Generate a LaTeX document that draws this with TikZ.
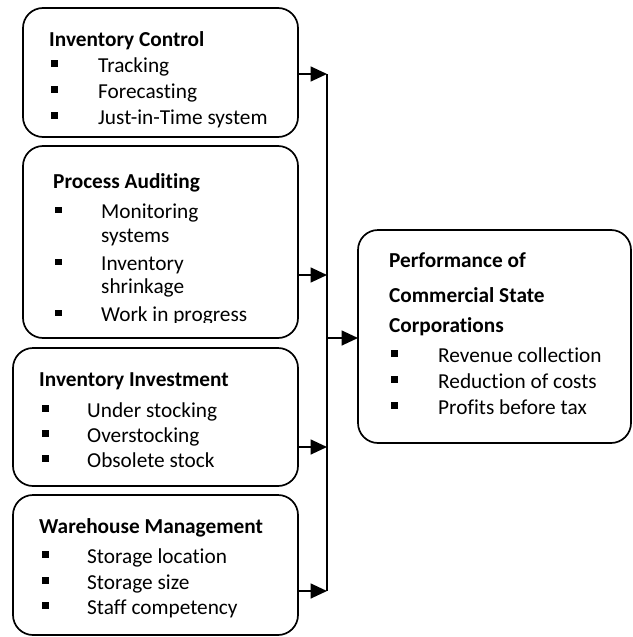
\documentclass[tikz,border=0pt]{standalone}
\usepackage{fontspec}
\setmainfont[Ligatures=NoCommon]{Carlito}
\usetikzlibrary{arrows.meta}
\begin{document}
\begin{tikzpicture}[x=1pt,y=-1pt,
  box/.style={draw,line width=1.7pt,rounded corners=20pt,anchor=north west,inner sep=0pt,outer sep=0pt},
  txt/.style={anchor=base west,inner sep=0pt,font=\fontsize{21.3pt}{25pt}\selectfont},
  ttl/.style={txt,font=\fontsize{21.3pt}{25pt}\selectfont\bfseries},
  conn/.style={line width=1.7pt},
  arr/.style={conn,-{Triangle[length=16.5pt,width=15pt]}},
  bul/.style={fill=black}]
\useasboundingbox (0,0) rectangle (632,637);
% boxes
\node[box,minimum width=275pt,minimum height=129pt] (b1) at (23,8) {};
\node[box,minimum width=275pt,minimum height=192pt] (b2) at (23,146) {};
\node[box,minimum width=285pt,minimum height=138pt] (b3) at (13,348) {};
\node[box,minimum width=285pt,minimum height=140pt] (b4) at (13,495) {};
\node[box,minimum width=273pt,minimum height=213pt] (out) at (358,230) {};
% box 1 text
\node[ttl] (t1) at (49,46) {Inventory Control};
\node[txt] (t1a) at (98,72) {Tracking};
\node[txt] (t1b) at (98,98) {Forecasting};
\node[txt] (t1c) at (98,124) {Just-in-Time system};
\foreach \y in {72,98,124} \fill[bul] (51,\y-12) rectangle (57.5,\y-5.5);
% box 2 text
\node[ttl] (t2) at (53,188) {Process Auditing};
\node[txt] (t2a) at (101,218.5) {Monitoring};
\node[txt] (t2b) at (101,242) {systems};
\node[txt] (t2c) at (101,270.5) {Inventory};
\node[txt] (t2d) at (101,293) {shrinkage};
\begin{scope}
\clip (0,0) rectangle (632,322);
\node[txt] (t2e) at (101,321.5) {Work in progress};
\end{scope}
\foreach \y in {218.5,270.5} \fill[bul] (55,\y-12) rectangle (61.5,\y-5.5);
\fill[bul] (55,309.5) rectangle (61.5,316);
% box 3 text
\node[ttl] (t3) at (39,386.5) {Inventory Investment};
\node[txt] (t3a) at (87,417) {Under stocking};
\node[txt] (t3b) at (87,442) {Overstocking};
\node[txt] (t3c) at (87,467) {Obsolete stock};
\foreach \y in {417,442,467} \fill[bul] (42,\y-12) rectangle (48.5,\y-5.5);
% box 4 text
\node[ttl] (t4) at (39,533) {Warehouse Management};
\node[txt] (t4a) at (87,563) {Storage location};
\node[txt] (t4b) at (87,589) {Storage size};
\node[txt] (t4c) at (87,614) {Staff competency};
\foreach \y in {563,589,614} \fill[bul] (42,\y-12) rectangle (48.5,\y-5.5);
% output box text
\node[ttl] (to1) at (389,267) {Performance of};
\node[ttl] (to2) at (389,302) {Commercial State};
\node[ttl] (to3) at (389,332) {Corporations};
\node[txt] (toa) at (438,362) {Revenue collection};
\node[txt] (tob) at (438,388) {Reduction of costs};
\node[txt] (toc) at (438,414) {Profits before tax};
\foreach \y in {362,388,414} \fill[bul] (391,\y-12) rectangle (397.5,\y-5.5);
% connectors
\coordinate (j1) at (327,74);
\coordinate (j2) at (327,275);
\coordinate (j3) at (327,447);
\coordinate (j4) at (327,591);
\coordinate (jm) at (327,338);
\draw[conn] (j1) -- (j4);
\draw[arr] (b1.east |- j1) -- (j1);
\draw[arr] (b2.east |- j2) -- (j2);
\draw[arr] (b3.east |- j3) -- (j3);
\draw[arr] (b4.east |- j4) -- (j4);
\draw[arr] (jm) -- (out.west |- jm);
\end{tikzpicture}
\end{document}
